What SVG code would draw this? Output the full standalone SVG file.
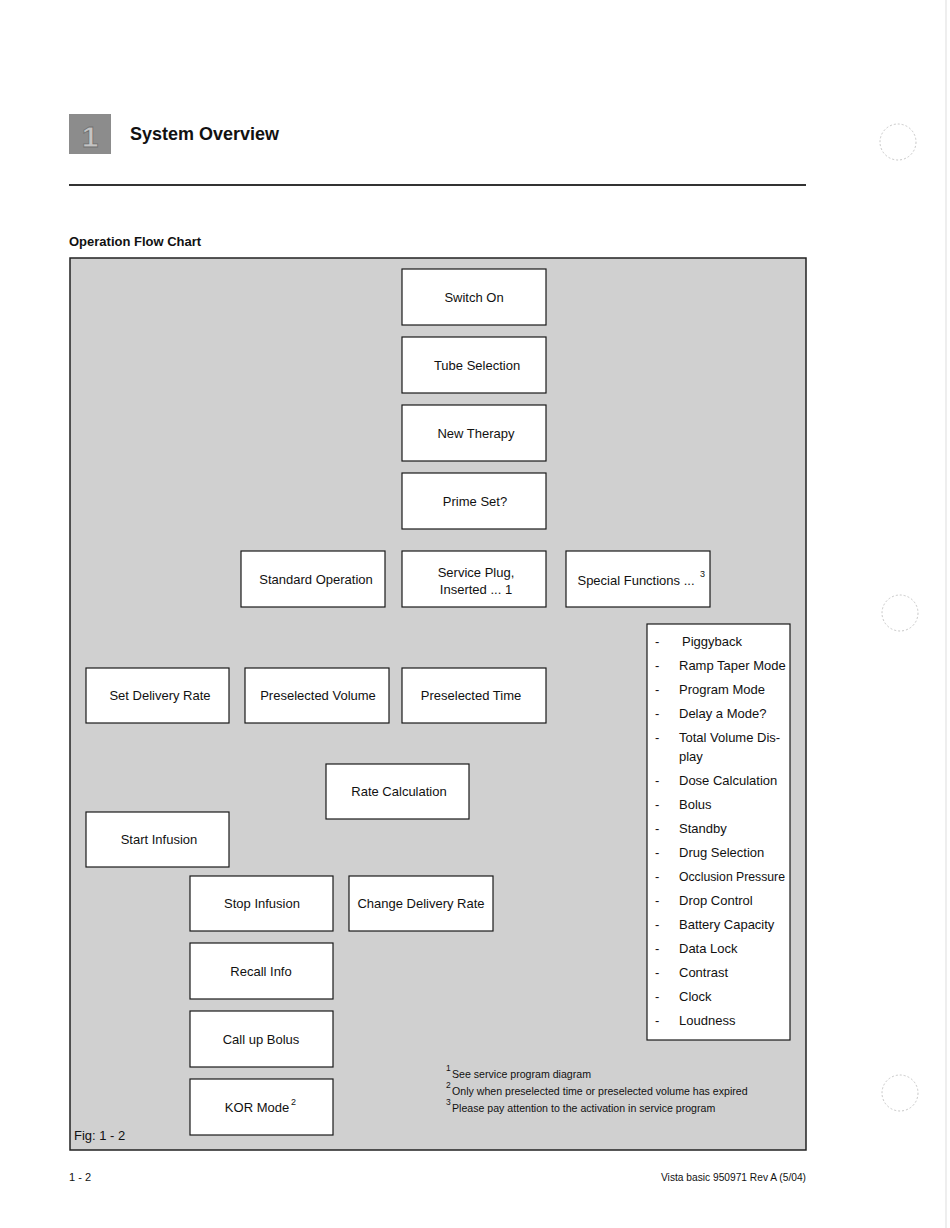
<svg xmlns="http://www.w3.org/2000/svg" width="950" height="1228" viewBox="0 0 950 1228">
<style>
text{font-family:"Liberation Sans",Arial,sans-serif;fill:#111}
.nb{fill:#fff;stroke:#1a1a1a;stroke-width:1.2}
.nt{font-size:13px;text-anchor:middle}
.li{font-size:13px}
.fn{font-size:10.6px}
.sup{font-size:8.5px}
</style>
<rect x="0" y="0" width="950" height="1228" fill="#fff"/>
<!-- header -->
<rect x="69" y="114" width="42" height="40" fill="#8c8c8c"/>
<text x="90" y="147" style="font-size:30px;font-weight:bold;fill:#c4c4c4;stroke:#707070;stroke-width:0.8;text-anchor:middle">1</text>
<text x="130" y="140" style="font-size:18px;font-weight:bold" textLength="149" lengthAdjust="spacingAndGlyphs">System Overview</text>
<rect x="69" y="184" width="737" height="2" fill="#333"/>
<text x="69" y="246" style="font-size:13px;font-weight:bold">Operation Flow Chart</text>
<!-- punch holes -->
<g fill="none" stroke="#c8c8c8" stroke-width="1" stroke-dasharray="2 2">
<circle cx="898" cy="142" r="18"/>
<circle cx="900" cy="613" r="18"/>
<circle cx="900" cy="1093" r="18"/>
</g>
<line x1="946" y1="0" x2="946" y2="1228" stroke="#ddd" stroke-width="1"/>
<!-- chart frame -->
<rect x="70" y="258" width="736" height="892" fill="#d0d0d0" stroke="#222" stroke-width="1.5"/>
<g id="connectors"></g>
<g id="switch-on"><rect class="nb" x="402" y="269" width="144" height="56"/><text class="nt" x="474" y="302">Switch On</text></g>
<g id="tube-selection"><rect class="nb" x="402" y="337" width="144" height="56"/><text class="nt" x="477" y="370">Tube Selection</text></g>
<g id="new-therapy"><rect class="nb" x="402" y="405" width="144" height="56"/><text class="nt" x="476" y="438">New Therapy</text></g>
<g id="prime-set"><rect class="nb" x="402" y="473" width="144" height="56"/><text class="nt" x="475" y="506">Prime Set?</text></g>
<g id="standard-operation"><rect class="nb" x="241" y="551" width="144" height="56"/><text class="nt" x="316" y="584">Standard Operation</text></g>
<g id="service-plug"><rect class="nb" x="402" y="551" width="144" height="56"/><text class="nt" x="476" y="577">Service Plug,</text><text class="nt" x="476" y="594">Inserted ... 1</text></g>
<g id="special-functions"><rect class="nb" x="566" y="551" width="144" height="56"/><text class="nt" x="636" y="585">Special Functions ...</text><text x="700" y="577" style="font-size:9px">3</text></g>
<g id="special-list">
<rect class="nb" x="647" y="624" width="143" height="416"/>
<g class="li">
<text x="655" y="646">-</text><text x="682" y="646">Piggyback</text>
<text x="655" y="670">-</text><text x="679" y="670">Ramp Taper Mode</text>
<text x="655" y="694">-</text><text x="679" y="694">Program Mode</text>
<text x="655" y="718">-</text><text x="679" y="718">Delay a Mode?</text>
<text x="655" y="742">-</text><text x="679" y="742">Total Volume Dis-</text>
<text x="679" y="761">play</text>
<text x="655" y="785">-</text><text x="679" y="785">Dose Calculation</text>
<text x="655" y="809">-</text><text x="679" y="809">Bolus</text>
<text x="655" y="833">-</text><text x="679" y="833">Standby</text>
<text x="655" y="857">-</text><text x="679" y="857">Drug Selection</text>
<text x="655" y="881">-</text><text x="679" y="881" textLength="106" lengthAdjust="spacingAndGlyphs">Occlusion Pressure</text>
<text x="655" y="905">-</text><text x="679" y="905">Drop Control</text>
<text x="655" y="929">-</text><text x="679" y="929">Battery Capacity</text>
<text x="655" y="953">-</text><text x="679" y="953">Data Lock</text>
<text x="655" y="977">-</text><text x="679" y="977">Contrast</text>
<text x="655" y="1001">-</text><text x="679" y="1001">Clock</text>
<text x="655" y="1025">-</text><text x="679" y="1025">Loudness</text>
</g>
</g>
<g id="set-delivery-rate"><rect class="nb" x="86" y="668" width="143" height="55"/><text class="nt" x="160" y="700">Set Delivery Rate</text></g>
<g id="preselected-volume"><rect class="nb" x="245" y="668" width="144" height="55"/><text class="nt" x="318" y="700">Preselected Volume</text></g>
<g id="preselected-time"><rect class="nb" x="402" y="668" width="144" height="55"/><text class="nt" x="471" y="700">Preselected Time</text></g>
<g id="rate-calculation"><rect class="nb" x="326" y="764" width="143" height="55"/><text class="nt" x="399" y="796">Rate Calculation</text></g>
<g id="start-infusion"><rect class="nb" x="86" y="812" width="143" height="55"/><text class="nt" x="159" y="844">Start Infusion</text></g>
<g id="stop-infusion"><rect class="nb" x="190" y="876" width="143" height="55"/><text class="nt" x="262" y="908">Stop Infusion</text></g>
<g id="change-delivery-rate"><rect class="nb" x="349" y="876" width="144" height="55"/><text class="nt" x="421" y="908">Change Delivery Rate</text></g>
<g id="recall-info"><rect class="nb" x="190" y="943" width="143" height="56"/><text class="nt" x="261" y="976">Recall Info</text></g>
<g id="call-up-bolus"><rect class="nb" x="190" y="1011" width="143" height="56"/><text class="nt" x="261" y="1044">Call up Bolus</text></g>
<g id="kor-mode"><rect class="nb" x="190" y="1079" width="143" height="56"/><text class="nt" x="257" y="1112">KOR Mode</text><text x="291" y="1105" style="font-size:9px">2</text></g>
<!-- footnotes -->
<g>
<text x="446" y="1071" class="sup">1</text><text x="452" y="1078" class="fn">See service program diagram</text>
<text x="446" y="1088" class="sup">2</text><text x="452" y="1095" class="fn">Only when preselected time or preselected volume has expired</text>
<text x="446" y="1105" class="sup">3</text><text x="452" y="1112" class="fn">Please pay attention to the activation in service program</text>
</g>
<text x="74" y="1140" style="font-size:13px">Fig: 1 - 2</text>
<!-- footer -->
<text x="69" y="1181" style="font-size:11px">1 - 2</text>
<text x="806" y="1181" style="font-size:10.5px;text-anchor:end" textLength="145" lengthAdjust="spacingAndGlyphs">Vista basic 950971 Rev A (5/04)</text>
</svg>
